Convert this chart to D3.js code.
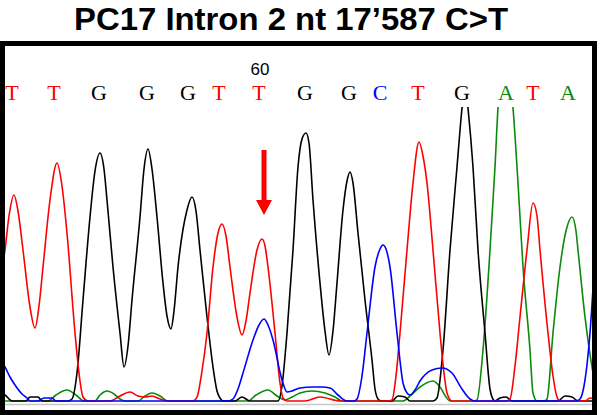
<!DOCTYPE html>
<html><head><meta charset="utf-8">
<script src="https://cdn.jsdelivr.net/npm/d3@7"></script>
<style>body{margin:0;background:#fff}svg{display:block}</style>
</head><body>
<svg id="c" width="600" height="415"></svg>
<script>
// ---- data (scan position, signal) ----
const title = "PC17 Intron 2 nt 17\u2019587 C>T";
const baseCalls = ["T","T","G","G","G","T","T","G","G","C","T","G","A","T","A"];
const baseScans = [12,54,99,147,188,219,259,305,349,380,418,462,506,533,568];
const positionLabel = "60";
const positionIndex = 6;
const mutationScan = 264;

const traceT = [[0,120],[5,151],[9,185],[14,206],[18,190],[23,151],[30,94],[35,73],[39,95],[43,134],[50,201],[57,238],[62,215],[67,168],[75,68],[80,20],[83,4],[88,0],
[110,0],[120,5],[130,9],[138,5],[145,4],[152,5],[160,2],[168,0],
[193,0],[197,4],[202,30],[207,68],[213,134],[218,168],[222,177],[226,165],[230,134],[237,84],[242,66],[246,80],[250,108],[257,151],[262,162],[265,155],[268,134],[275,68],[280,18],[283,3],[287,0],
[305,0],[320,4],[340,0],
[388,0],[392,1],[396,25],[400,68],[407,151],[413,218],[419,259],[423,245],[427,218],[433,151],[440,68],[444,28],[447,8],[452,0],
[506,0],[510,2],[515,35],[520,84],[527,151],[533,198],[537,185],[540,151],[548,68],[553,25],[557,4],[560,0],[585,0],[590,3],[600,0]];

const traceG = [[0,8],[5,6],[12,0],[26,0],[30,4],[38,4],[42,0],
[68,0],[72,2],[77,28],[83,101],[90,184],[95,230],[100,248],[104,232],[107,201],[113,134],[120,68],[124,34],[128,55],[132,101],[140,184],[144,232],[148,252],[152,232],[157,184],[163,118],[167,85],[171,72],[174,90],[178,134],[187,191],[192,204],[196,190],[200,151],[207,84],[213,34],[217,10],[220,3],[223,0],
[235,0],[242,4],[250,0],
[278,0],[282,15],[287,68],[293,151],[298,234],[302,262],[306,268],[309,258],[313,201],[320,118],[325,70],[329,46],[333,70],[337,118],[343,191],[347,220],[350,229],[353,218],[358,168],[365,101],[372,41],[375,12],[378,2],[381,0],
[392,0],[398,5],[405,4],[410,0],
[433,0],[437,3],[443,51],[450,151],[457,234],[462,293],[465,320],[468,293],[473,234],[478,151],[485,68],[490,12],[492,4],[495,0],
[500,3],[506,4],[512,0],[558,0],[565,5],[572,4],[578,0],[600,0]];

const traceA = [[0,0],[48,0],[56,6],[67,11],[76,6],[84,0],[95,0],[100,6],[107,10],[114,7],[120,2],[125,0],[138,0],[145,5],[152,8],[160,5],[168,0],
[248,0],[256,6],[268,11],[277,5],[285,1],[292,4],[300,8],[312,10],[325,8],[335,4],[342,0],
[403,0],[410,5],[420,14],[433,20],[440,14],[446,4],[450,0],
[474,0],[477,1],[483,51],[490,151],[495,234],[498,293],[505,345],[513,293],[518,218],[523,134],[530,51],[533,8],[537,0],
[544,0],[547,2],[553,68],[560,134],[567,174],[572,184],[576,170],[578,151],[585,84],[592,34],[596,12],[600,4]];

const traceC = [[0,42],[5,34],[10,24],[15,16],[22,7],[27,3],[30,0],[38,0],[44,3],[52,3],[56,0],
[228,0],[233,2],[238,12],[243,28],[253,61],[259,76],[264,82],[268,76],[273,61],[282,21],[287,9],[292,10],[300,13],[313,14],[322,14],[330,13],[338,6],[347,0],
[354,0],[357,2],[362,25],[367,68],[375,134],[380,152],[383,156],[386,152],[390,134],[397,68],[403,18],[407,8],[410,6],[415,11],[420,20],[432,31],[442,33],[452,28],[462,12],[470,2],[475,0],
[576,0],[580,2],[584,15],[590,68],[595,144],[600,215]];

const baseColors = {A:"#0b8a0b", C:"#0000ff", G:"#000000", T:"#ff0000"};

// ---- drawing ----
const svg = d3.select("#c");
const x = d3.scaleLinear().domain([0,600]).range([0,600]);
const y = d3.scaleLinear().domain([0,294]).range([401,107]);

svg.append("text").attr("x",74).attr("y",30)
  .attr("font-family","Liberation Sans, Arial, sans-serif").attr("font-weight","bold")
  .attr("font-size",31).attr("fill","#000")
  .attr("textLength",434).attr("lengthAdjust","spacingAndGlyphs").text(title);

// frame
svg.append("rect").attr("x",2.5).attr("y",43.5).attr("width",592).attr("height",369)
  .attr("fill","#fff").attr("stroke","#000").attr("stroke-width",5);

// grey axis line
svg.append("line").attr("x1",5).attr("x2",592).attr("y1",404.5).attr("y2",404.5)
  .attr("stroke","#c8c8c8").attr("stroke-width",1.5);

svg.append("clipPath").attr("id","clip").append("rect")
  .attr("x",5).attr("y",107).attr("width",587).attr("height",296);

const line = d3.line().x(d=>x(d[0])).y(d=>y(d[1])).curve(d3.curveMonotoneX);
const g = svg.append("g").attr("clip-path","url(#clip)");
[["A",traceA],["G",traceG],["T",traceT],["C",traceC]].forEach(([b,t])=>{
  g.append("path").attr("d",line(t)).attr("fill","none")
   .attr("stroke",baseColors[b]).attr("stroke-width",1.6).attr("stroke-linejoin","round");
});

// base calls
svg.append("g").selectAll("text").data(baseCalls).join("text")
  .attr("x",(d,i)=>x(baseScans[i])).attr("y",100).attr("text-anchor","middle")
  .attr("font-family","Liberation Serif, Times New Roman, serif").attr("font-size",22)
  .attr("fill",d=>baseColors[d]).text(d=>d);

svg.append("text").attr("x",x(baseScans[positionIndex])+1).attr("y",75).attr("text-anchor","middle")
  .attr("font-family","Liberation Sans, Arial, sans-serif").attr("font-size",17)
  .attr("fill","#000").text(positionLabel);

// arrow
const ax = x(mutationScan);
svg.append("rect").attr("x",ax-2.5).attr("y",150).attr("width",5).attr("height",52).attr("fill","#ff0000");
svg.append("path").attr("d",`M${ax-8},200 L${ax+8},200 L${ax},215 Z`).attr("fill","#ff0000");
</script>
</body></html>
